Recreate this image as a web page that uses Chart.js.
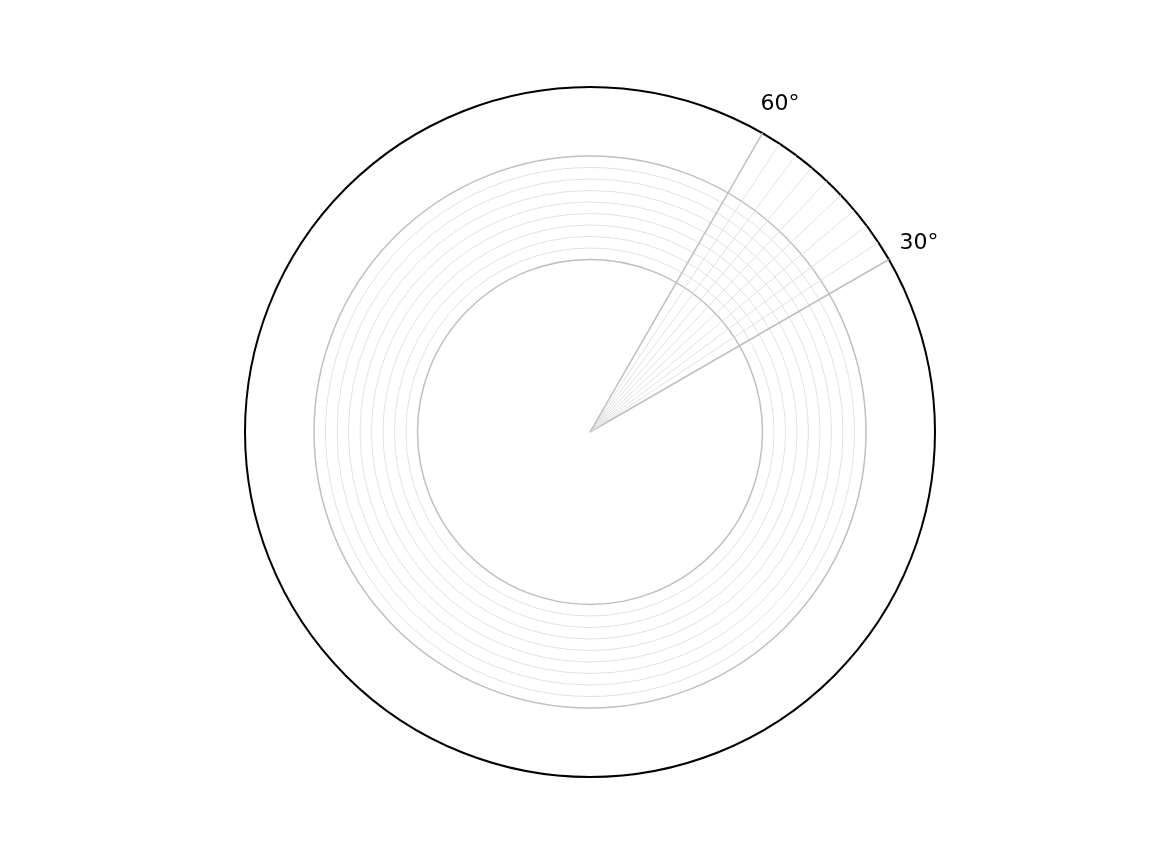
<!DOCTYPE html>
<html>
<head>
<meta charset="utf-8">
<script src="https://cdn.jsdelivr.net/npm/chart.js@4.4.1/dist/chart.umd.min.js"></script>
<style>
  html, body { margin: 0; padding: 0; background: #fff; }
  #wrap { width: 1152px; height: 864px; }
</style>
</head>
<body>
<div id="wrap"><canvas id="polar" width="1152" height="864"></canvas></div>
<script>
// radial grid (fraction of outer radius): major rings and subdivisions between them
var rMajor = [0.5, 0.8];
var rMax = 1;
var rDivisions = 9;
// angular grid in degrees (math convention, 0 = east, counter-clockwise)
var thetaMajor = [30, 60];
var thetaLabels = ['30°', '60°'];
var thetaDivisions = 9;

// spacing of the angle lines -> number of radar "spokes" around the circle
var thetaStep = (thetaMajor[1] - thetaMajor[0]) / thetaDivisions;
var nSpokes = Math.round(360 / thetaStep);

var spokeLabels = [];
for (var i = 0; i < nSpokes; i++) {
    spokeLabels.push(((90 - i * thetaStep) % 360 + 360) % 360);
}

var radialTicks = [0];
var rStep = (rMajor[1] - rMajor[0]) / rDivisions;
for (var k = 0; k <= rDivisions; k++) {
    radialTicks.push(rMajor[0] + k * rStep);
}
radialTicks.push(rMax);

function near(a, b) { return Math.abs(a - b) < 1e-6; }

function spokeIndex(deg) {
    return Math.round((((90 - deg) % 360) + 360) % 360 / thetaStep) % nSpokes;
}

function spokeKind(index) {
    var deg = spokeLabels[index];
    if (thetaMajor.some(function (t) { return Math.abs(t - deg) < 0.01; })) return 'major';
    if (deg > thetaMajor[0] && deg < thetaMajor[1]) return 'minor';
    return 'none';
}

var thetaTickLabels = {
    id: 'thetaTickLabels',
    afterDraw: function (chart) {
        var s = chart.scales.r;
        var ctx = chart.ctx;
        ctx.save();
        ctx.fillStyle = '#000';
        ctx.font = '22px "DejaVu Sans"';
        ctx.textAlign = 'center';
        ctx.textBaseline = 'middle';
        thetaMajor.forEach(function (deg, j) {
            var p = s.getPointPosition(spokeIndex(deg), s.drawingArea + 35);
            ctx.fillText(thetaLabels[j], p.x, p.y + 1);
        });
        ctx.restore();
    }
};

var ctx = document.getElementById('polar');
var chart = new Chart(ctx, {
    type: 'radar',
    data: {
        labels: spokeLabels,
        datasets: [{ data: [], pointRadius: 0, borderWidth: 0 }]
    },
    options: {
        responsive: false,
        animation: false,
        layout: { padding: { left: 28, right: 0, top: 87, bottom: 87 } },
        plugins: { legend: { display: false }, tooltip: { enabled: false } },
        scales: {
            r: {
                min: 0,
                max: rMax,
                afterBuildTicks: function (scale) {
                    scale.ticks = radialTicks.map(function (v) { return { value: v }; });
                },
                ticks: { display: false },
                pointLabels: { display: false },
                grid: {
                    circular: true,
                    color: function (c) {
                        var v = c.tick ? c.tick.value : 0;
                        if (near(v, rMax)) return '#000000';
                        if (rMajor.some(function (m) { return near(m, v); })) return '#bfbfbf';
                        return '#dedede';
                    },
                    lineWidth: function (c) {
                        var v = c.tick ? c.tick.value : 0;
                        if (near(v, rMax)) return 2;
                        if (rMajor.some(function (m) { return near(m, v); })) return 1.5;
                        return 0.9;
                    }
                },
                angleLines: {
                    display: true,
                    color: function (c) {
                        var kind = spokeKind(c.index);
                        if (kind === 'major') return '#bfbfbf';
                        if (kind === 'minor') return '#dedede';
                        return 'rgba(0,0,0,0)';
                    },
                    lineWidth: function (c) {
                        var kind = spokeKind(c.index);
                        if (kind === 'major') return 1.5;
                        if (kind === 'minor') return 0.9;
                        return 0;
                    }
                }
            }
        }
    },
    plugins: [thetaTickLabels]
});
</script>
</body>
</html>
